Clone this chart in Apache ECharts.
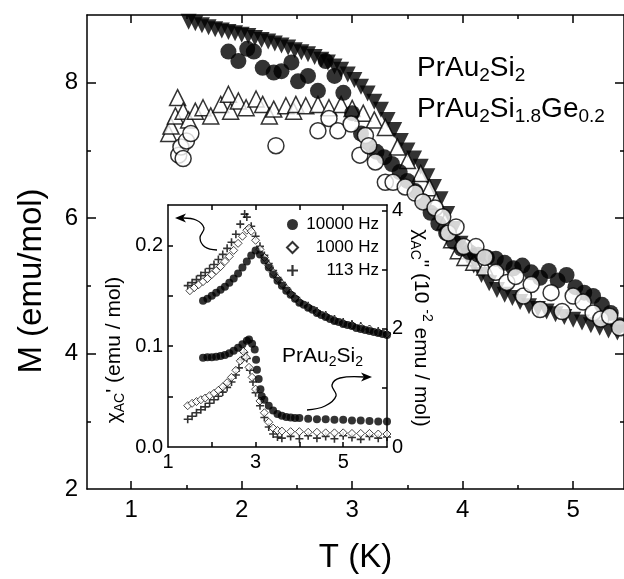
<!DOCTYPE html>
<html><head><meta charset="utf-8">
<script src="https://cdn.jsdelivr.net/npm/echarts@6/dist/echarts.min.js"></script>
<style>html,body{margin:0;padding:0;background:#fff}#c{width:624px;height:579px}</style>
</head><body><div id="c"></div>
<script>
// ---------- main panel: M(T) ----------
const triFilledT = [1.52,1.58,1.64,1.70,1.76,1.82,1.88,1.94,2.00,2.06,2.12,2.18,2.24,2.30,2.36,2.42,2.48,2.54,2.60,2.66,2.72,2.78,2.84,2.90,2.96,3.02,3.08,3.14,3.20,3.26,3.32,3.38,3.44,3.50,3.56,3.62,3.68,3.74,3.80,3.86,3.92,3.98,4.04,4.10,4.17,4.24,4.31,4.38,4.45,4.52,4.60,4.68,4.76,4.84,4.92,5.00,5.08,5.16,5.24,5.32,5.40];
const triFilledM = [8.90,8.88,8.85,8.82,8.79,8.77,8.75,8.73,8.71,8.69,8.66,8.63,8.61,8.58,8.55,8.52,8.48,8.45,8.42,8.38,8.34,8.30,8.24,8.19,8.12,8.04,7.94,7.84,7.72,7.60,7.45,7.30,7.14,7.00,6.88,6.76,6.62,6.46,6.28,6.06,5.84,5.62,5.44,5.30,5.16,5.04,4.94,4.87,4.82,4.76,4.70,4.66,4.62,4.58,4.54,4.50,4.46,4.42,4.38,4.34,4.31];
const circFilledT = [1.88,1.97,2.05,2.11,2.19,2.29,2.36,2.45,2.51,2.60,2.69,2.76,2.84,2.92,3.00,3.08,3.15,3.22,3.29,3.36,3.43,3.50,3.57,3.64,3.71,3.78,3.85,3.92,3.99,4.06,4.14,4.22,4.30,4.38,4.46,4.54,4.62,4.70,4.78,4.86,4.94,5.02,5.10,5.18,5.26,5.34,5.42];
const circFilledM = [8.46,8.32,8.50,8.46,8.22,8.15,8.17,8.30,8.02,8.10,7.88,8.32,8.10,7.85,7.55,7.25,7.06,6.98,6.90,6.80,6.68,6.55,6.40,6.25,6.08,5.92,5.78,5.65,5.55,5.50,5.46,5.42,5.40,5.34,5.26,5.30,5.20,5.12,5.22,5.08,5.16,4.98,4.90,4.85,4.72,4.60,4.42];
const circOpenT = [1.43,1.45,1.47,1.50,1.54,2.31,2.69,2.79,2.87,2.99,3.07,3.12,3.15,3.21,3.30,3.37,3.48,3.57,3.64,3.75,3.82,3.87,3.94,4.01,4.12,4.20,4.30,4.40,4.48,4.55,4.62,4.70,4.80,4.90,5.00,5.09,5.18,5.25,5.33,5.42];
const circOpenM = [6.93,7.05,6.88,7.14,7.25,7.07,7.29,7.47,7.29,7.39,6.93,7.22,7.07,6.83,6.53,6.53,6.46,6.37,6.24,6.15,6.02,5.78,5.87,5.58,5.58,5.42,5.20,5.05,5.14,4.85,5.02,4.65,4.90,4.62,4.85,4.76,4.60,4.51,4.55,4.38];
const triOpenT = [1.34,1.36,1.40,1.42,1.47,1.52,1.58,1.65,1.72,1.81,1.88,1.90,1.97,2.04,2.13,2.19,2.25,2.29,2.40,2.47,2.49,2.58,2.69,2.79,2.90,3.00,3.10,3.20,3.30,3.41,3.50,3.62,3.70,3.76,3.84,3.90,3.96,4.02,4.10,4.20];
const triOpenM = [7.25,7.36,7.51,7.78,7.58,7.45,7.58,7.63,7.51,7.68,7.83,7.58,7.73,7.63,7.76,7.68,7.51,7.61,7.66,7.58,7.68,7.66,7.68,7.63,7.68,7.62,7.55,7.45,7.34,7.05,6.85,6.66,6.45,6.25,5.95,5.68,5.52,5.42,5.35,5.28];
const mainXTicks = [1,2,3,4,5];
const mainXMinor = [1.5,2.5,3.5,4.5];
const mainYLabels = [2,4,6,8];
const mainYTicks = [4,6,8];
const mainYMinor = [3,5,7];

// ---------- inset: chi_AC' (left axis) and chi_AC'' (right axis) ----------
const chi1_10k_T = [1.8,1.9,2.0,2.1,2.2,2.3,2.4,2.5,2.6,2.7,2.8,2.9,3.0,3.1,3.2,3.3,3.4,3.5,3.6,3.7,3.8,3.9,4.0,4.1,4.2,4.3,4.4,4.5,4.6,4.7,4.8,4.9,5.0,5.1,5.2,5.3,5.4,5.5,5.6,5.7,5.8,5.9,6.0];
const chi1_10k = [.145,.147,.150,.153,.156,.159,.163,.167,.172,.178,.184,.190,.195,.191,.185,.178,.171,.165,.160,.155,.151,.147,.143,.141,.138,.136,.133,.131,.129,.127,.125,.124,.122,.121,.120,.118,.117,.116,.115,.114,.113,.112,.111];
const chi1_1k_T = [1.5,1.6,1.7,1.8,1.9,2.0,2.1,2.2,2.3,2.4,2.5,2.6,2.7,2.8,2.85,2.9,3.0,3.1,3.2,3.3,3.4,3.5,3.6,3.7,3.8,3.9,4.0,4.2,4.4,4.6,4.8,5.0,5.2,5.4,5.6,5.8,6.0];
const chi1_1k = [.155,.158,.161,.164,.167,.171,.175,.179,.184,.189,.195,.202,.209,.215,.217,.214,.205,.196,.188,.180,.173,.167,.162,.157,.152,.148,.144,.139,.134,.130,.126,.123,.121,.119,.117,.114,.112];
const chi1_113_T = [1.45,1.55,1.65,1.75,1.85,1.95,2.05,2.15,2.25,2.35,2.45,2.55,2.65,2.75,2.8,2.9,3.0,3.1,3.2,3.3,3.4,3.5,3.6,3.7,3.8,3.9,4.0,4.2,4.4,4.6,4.8,5.0,5.2,5.4,5.6,5.8,6.0];
const chi1_113 = [.160,.163,.166,.170,.173,.177,.181,.186,.191,.197,.203,.211,.221,.231,.228,.219,.209,.199,.190,.182,.175,.168,.163,.158,.153,.149,.145,.140,.135,.131,.127,.124,.122,.120,.117,.115,.113];
const chi2_10k_T = [1.8,1.9,2.0,2.1,2.2,2.3,2.4,2.5,2.6,2.7,2.8,2.85,2.92,2.98,3.01,3.03,3.07,3.11,3.14,3.2,3.3,3.4,3.5,3.6,3.7,3.8,3.9,4.0,4.2,4.4,4.6,4.8,5.0,5.2,5.4,5.6,5.8,6.0];
const chi2_10k = [1.51,1.52,1.52,1.53,1.54,1.56,1.59,1.63,1.68,1.74,1.80,1.82,1.75,1.65,1.48,1.31,1.15,0.98,0.86,0.80,0.70,0.62,0.56,0.53,0.51,0.50,0.49,0.49,0.48,0.47,0.47,0.46,0.46,0.45,0.45,0.44,0.43,0.43];
const chi2_1k_T = [1.45,1.55,1.65,1.75,1.85,1.95,2.05,2.15,2.25,2.35,2.45,2.55,2.65,2.72,2.78,2.85,2.92,3.0,3.1,3.2,3.3,3.4,3.5,3.6,3.8,4.0,4.2,4.4,4.6,4.8,5.0,5.2,5.4,5.6,5.8,6.0];
const chi2_1k = [0.70,0.74,0.77,0.80,0.83,0.87,0.91,0.96,1.02,1.09,1.18,1.30,1.46,1.62,1.52,1.35,1.18,0.98,0.78,0.58,0.42,0.32,0.28,0.27,0.26,0.26,0.25,0.25,0.24,0.24,0.24,0.23,0.23,0.23,0.22,0.22];
const chi2_113_T = [1.45,1.55,1.65,1.75,1.85,1.95,2.05,2.15,2.25,2.35,2.45,2.55,2.62,2.68,2.74,2.8,2.87,2.94,3.0,3.1,3.2,3.3,3.4,3.5,3.6,3.8,4.0,4.2,4.4,4.6,4.8,5.0,5.2,5.4,5.6,5.8,6.0];
const chi2_113 = [0.47,0.52,0.58,0.63,0.68,0.74,0.80,0.86,0.93,1.01,1.10,1.22,1.34,1.48,1.60,1.50,1.30,1.10,0.92,0.70,0.50,0.34,0.22,0.17,0.15,0.18,0.14,0.19,0.15,0.18,0.14,0.19,0.16,0.13,0.18,0.15,0.17];
const insetXLabels = [1,3,5];
const insetXTicks = [2,3,4,5];
const insetYLeftLabels = [0,0.1,0.2];
const insetYLeftTicks = [0.05,0.1,0.15,0.2];
const insetYRightLabels = [0,2,4];
const insetYRightTicks = [1,2,3,4];
const legendNames = ['10000 Hz','1000 Hz','113 Hz'];

const FONT = '"Liberation Sans", Arial, Helvetica, sans-serif';
const zip = (a, b) => a.map((v, i) => [v, b[i]]);

function mkAxis(gridIndex, position, min, max, tickVals, tickLen, labelVals, fontSize, margin, showLine, fmt, z) {
  return {
    type: 'value', gridIndex, position, min, max, z: z || 0,
    splitLine: {show: false},
    axisLine: {show: showLine, onZero: false, lineStyle: {color: '#000', width: 1.5}},
    axisTick: {show: !!tickVals, inside: true, length: tickLen, customValues: tickVals || [], lineStyle: {color: '#000', width: 1.5}},
    axisLabel: labelVals ? {show: true, customValues: labelVals, fontSize, margin, color: '#000', fontFamily: FONT, hideOverlap: false, formatter: fmt} : {show: false}
  };
}

const xAxes = [
  mkAxis(0, 'bottom', 0.6, 5.46, mainXTicks, 8, mainXTicks, 24, 9, true),
  mkAxis(0, 'bottom', 0.6, 5.46, mainXMinor, 4, null, 0, 0, false),
  mkAxis(0, 'top', 0.6, 5.46, mainXTicks, 8, null, 0, 0, true),
  mkAxis(0, 'top', 0.6, 5.46, mainXMinor, 4, null, 0, 0, false),
  mkAxis(1, 'bottom', 1, 6, insetXTicks, 5, insetXLabels, 20, 5, true, null, 5),
  mkAxis(1, 'top', 1, 6, insetXTicks, 5, null, 0, 0, true, null, 5)
];
Object.assign(xAxes[0], {name: 'T (K)', nameLocation: 'middle', nameGap: 52,
  nameTextStyle: {fontSize: 33, color: '#000', fontFamily: FONT}});

const yAxes = [
  mkAxis(0, 'left', 2, 9, mainYTicks, 9, mainYLabels, 24, 9, true),
  mkAxis(0, 'left', 2, 9, mainYMinor, 4, null, 0, 0, false),
  mkAxis(0, 'right', 2, 9, mainYTicks, 9, null, 0, 0, true),
  mkAxis(0, 'right', 2, 9, mainYMinor, 4, null, 0, 0, false),
  mkAxis(1, 'left', 0, 0.24, insetYLeftTicks, 5, insetYLeftLabels, 20, 5, true, v => v.toFixed(1), 5),
  mkAxis(1, 'right', 0, 4.1, insetYRightTicks, 5, insetYRightLabels, 20, 5, true, v => String(v), 5)
];

const mainSym = 16;
const insetSym = 8;
const plusPath = 'path://M4,0H6V4H10V6H6V10H4V6H0V4H4Z';
const series = [
  {name: 'PrAu2Si2 (down triangles)', type: 'scatter', xAxisIndex: 0, yAxisIndex: 0, symbol: 'triangle', symbolRotate: 180, symbolSize: mainSym,
   itemStyle: {color: '#000'}, data: zip(triFilledT, triFilledM), z: 2},
  {name: 'PrAu2Si1.8Ge0.2 (open triangles)', type: 'scatter', xAxisIndex: 0, yAxisIndex: 0, symbol: 'triangle', symbolSize: mainSym,
   itemStyle: {color: '#fff', borderColor: '#000', borderWidth: 1.5}, data: zip(triOpenT, triOpenM), z: 2},
  {name: 'PrAu2Si2 (circles)', type: 'scatter', xAxisIndex: 0, yAxisIndex: 0, symbol: 'circle', symbolSize: mainSym,
   itemStyle: {color: '#000'}, data: zip(circFilledT, circFilledM), z: 2},
  {name: 'PrAu2Si1.8Ge0.2 (open circles)', type: 'scatter', xAxisIndex: 0, yAxisIndex: 0, symbol: 'circle', symbolSize: mainSym,
   itemStyle: {color: '#fff', borderColor: '#000', borderWidth: 1.5}, data: zip(circOpenT, circOpenM), z: 2},
  // inset
  {name: '113 Hz', type: 'scatter', xAxisIndex: 4, yAxisIndex: 4, symbol: plusPath, symbolSize: insetSym,
   itemStyle: {color: '#000'}, data: zip(chi1_113_T, chi1_113), z: 6},
  {name: '1000 Hz', type: 'scatter', xAxisIndex: 4, yAxisIndex: 4, symbol: 'diamond', symbolSize: insetSym,
   itemStyle: {color: '#fff', borderColor: '#000', borderWidth: 0.9}, data: zip(chi1_1k_T, chi1_1k), z: 6},
  {name: '10000 Hz', type: 'scatter', xAxisIndex: 4, yAxisIndex: 4, symbol: 'circle', symbolSize: insetSym,
   itemStyle: {color: '#000'}, data: zip(chi1_10k_T, chi1_10k), z: 6},
  {name: '113 Hz', type: 'scatter', xAxisIndex: 4, yAxisIndex: 5, symbol: plusPath, symbolSize: insetSym,
   itemStyle: {color: '#000'}, data: zip(chi2_113_T, chi2_113), z: 6},
  {name: '1000 Hz', type: 'scatter', xAxisIndex: 4, yAxisIndex: 5, symbol: 'diamond', symbolSize: insetSym,
   itemStyle: {color: '#fff', borderColor: '#000', borderWidth: 0.9}, data: zip(chi2_1k_T, chi2_1k), z: 6},
  {name: '10000 Hz', type: 'scatter', xAxisIndex: 4, yAxisIndex: 5, symbol: 'circle', symbolSize: insetSym,
   itemStyle: {color: '#000'}, data: zip(chi2_10k_T, chi2_10k), z: 6}
];

const subRich = (fs, pad) => ({s: {fontSize: fs, fontFamily: FONT, fill: '#000', padding: [pad, 0, 0, 0]},
  u: {fontSize: fs, fontFamily: FONT, fill: '#000', padding: [0, 0, pad, 0]}});

const graphic = [
  {type: 'text', x: 32, y: 281, rotation: Math.PI / 2, z: 20,
   style: {text: 'M (emu/mol)', fontSize: 33, fontFamily: FONT, fill: '#000', align: 'center', verticalAlign: 'middle'}},
  {type: 'text', x: 417, y: 68, z: 20,
   style: {text: 'PrAu{s|2}Si{s|2}', fontSize: 28, fontFamily: FONT, fill: '#000', align: 'left', verticalAlign: 'middle', rich: subRich(19, 16)}},
  {type: 'text', x: 417, y: 109, z: 20,
   style: {text: 'PrAu{s|2}Si{s|1.8}Ge{s|0.2}', fontSize: 28, fontFamily: FONT, fill: '#000', align: 'left', verticalAlign: 'middle', rich: subRich(19, 16)}},
  {type: 'text', x: 282, y: 356, z: 20,
   style: {text: 'PrAu{s|2}Si{s|2}', fontSize: 21, fontFamily: FONT, fill: '#000', align: 'left', verticalAlign: 'middle', rich: subRich(14, 12)}},
  {type: 'text', x: 114, y: 350, rotation: Math.PI / 2, z: 20,
   style: {text: 'χ{s|AC}\' (emu / mol)', fontSize: 21, fontFamily: FONT, fill: '#000', align: 'center', verticalAlign: 'middle', rich: subRich(14, 12)}},
  {type: 'text', x: 421, y: 328, rotation: -Math.PI / 2, z: 20,
   style: {text: 'χ{s|AC}" (10 {u|-2} emu / mol)', fontSize: 21, fontFamily: FONT, fill: '#000', align: 'center', verticalAlign: 'middle', rich: subRich(14, 12)}},
  // arrows
  {type: 'polyline', z: 20, shape: {points: [[217,250],[205,247],[200,238],[204,228],[196,220],[182,218]], smooth: 0.4},
   style: {stroke: '#000', lineWidth: 1.3, fill: null}},
  {type: 'polygon', z: 20, shape: {points: [[175,218],[186,213.5],[183,218],[186,222.5]]}, style: {fill: '#000'}},
  {type: 'polyline', z: 20, shape: {points: [[307,410],[325,406],[336,396],[332,385],[340,378],[364,377]], smooth: 0.4},
   style: {stroke: '#000', lineWidth: 1.3, fill: null}},
  {type: 'polygon', z: 20, shape: {points: [[372,377],[361,372.5],[364,377],[361,381.5]]}, style: {fill: '#000'}}
];

const option = {
  animation: false,
  backgroundColor: '#fff',
  grid: [
    {left: 87, top: 15, right: -2, bottom: 87.5, z: 0},
    {left: 168, top: 205, width: 219, height: 242, show: true, backgroundColor: '#fff', borderWidth: 0, z: 4}
  ],
  xAxis: xAxes,
  yAxis: yAxes,
  legend: {show: true, orient: 'vertical', left: 281, top: 211, itemWidth: 11, itemHeight: 11, itemGap: 6, z: 10,
    data: legendNames, selectedMode: false,
    formatter: name => '{a|' + name + '}',
    textStyle: {fontSize: 17, fontFamily: FONT, color: '#000',
      rich: {a: {width: 76, align: 'right', fontSize: 17, fontFamily: FONT, color: '#000'}}}},
  series,
  graphic
};

const chart = echarts.init(document.getElementById('c'), null, {renderer: 'canvas'});
chart.setOption(option);
</script></body></html>
